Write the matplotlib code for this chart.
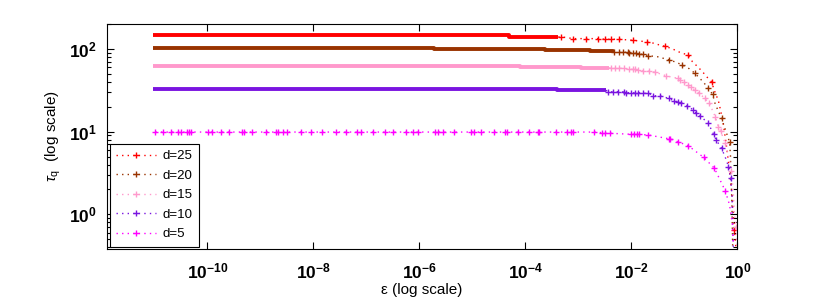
import matplotlib
matplotlib.use('Agg')
import matplotlib.pyplot as plt
import numpy as np

plt.rcParams['font.family'] = ['Liberation Sans', 'DejaVu Sans']
plt.rcParams['mathtext.fontset'] = 'custom'
plt.rcParams['mathtext.rm'] = 'Liberation Sans'
plt.rcParams['mathtext.it'] = 'Liberation Sans:italic'
plt.rcParams['mathtext.bf'] = 'Liberation Sans:bold'

# values, epsilon given as log10(eps)
labels = ['d=25', 'd=20', 'd=15', 'd=10', 'd=5']
colors = ['#ff0000', '#993300', '#ff99cc', '#7a14e0', '#ff00ff']

# dense part (markers overlap into a solid band): step breakpoints
dense_log_eps = {
    'd=25': [-11.02, -4.31, -3.38],
    'd=20': [-11.02, -5.73, -3.63, -2.78, -2.34],
    'd=15': [-11.02, -4.10, -2.95, -2.42],
    'd=10': [-11.02, -3.40, -2.48],
    'd=5': [],
}
dense_tau = {
    'd=25': [148, 140, 140],
    'd=20': [102.3, 99.4, 96.7, 94.0, 91.5],
    'd=15': [63.0, 61.2, 59.6, 59.6],
    'd=10': [32.6, 31.7, 31.7],
    'd=5': [],
}

# sparse part (dotted line, '+' only on some of the points)
log_eps_25 = [-3.38, -3.33, -3.10, -2.85, -2.63, -2.50, -2.38, -2.23, -1.98, -1.83,
              -1.70, -1.57, -1.47, -1.36, -1.21, -1.12, -1.04, -0.93, -0.85, -0.76,
              -0.66, -0.59, -0.49, -0.435, -0.36, -0.32, -0.265, -0.21, -0.15,
              -0.095, -0.057, -0.019]
tau_25 = [140, 141, 134, 134, 134, 131.5, 131.5, 131.5, 128, 125,
          122, 117.5, 112, 108, 99.5, 93, 89.7, 84, 70.4, 62,
          53.3, 46.9, 40.3, 31.4, 23.7, 18.3, 12.1, 6.9, 3.44,
          1.49, 0.645, 0.32]
marks_25 = [1, 2, 3, 4, 5, 6, 7, 8, 10, 13, 17, 22, 30]

log_eps_20 = [-2.34, -2.33, -2.23, -2.16, -2.06, -2.04, -1.97, -1.91, -1.85, -1.78,
              -1.68, -1.51, -1.30, -1.17, -1.04, -0.91, -0.81, -0.74, -0.64, -0.55,
              -0.47, -0.42, -0.30, -0.15, -0.13, -0.13, -0.113, -0.105, -0.10,
              -0.095, -0.09]
tau_20 = [91.5, 91.5, 91.5, 91.5, 91.5, 89, 89, 89, 86.5, 86.5,
          83.2, 80.9, 74.4, 69.8, 64.2, 57.9, 51.4, 46.3, 39.6, 33.5,
          28.4, 21.6, 14.5, 7.5, 4.9, 3.0, 2.0, 1.3, 0.86,
          0.56, 0.38]
marks_20 = [1, 2, 3, 4, 5, 6, 7, 8, 9, 10, 12, 14, 16, 19, 20, 22, 23]

log_eps_15 = [-2.42, -2.38, -2.31, -2.23, -2.14, -2.04, -1.98, -1.93, -1.87, -1.78,
              -1.66, -1.55, -1.44, -1.34, -1.25, -1.12, -1.08, -1.00, -0.93, -0.87,
              -0.81, -0.72, -0.62, -0.53, -0.42, -0.36, -0.32, -0.23, -0.17,
              -0.113, -0.076, -0.057, -0.019, -0.01]
tau_15 = [59.6, 58.6, 58.6, 58.6, 58.6, 56.9, 56.9, 56.9, 55.4, 54.8,
          53.8, 52.8, 49.5, 47.6, 45.9, 44.3, 41.9, 39.6, 37.1, 35.1,
          32.0, 29.2, 25.4, 22.1, 15.2, 11.5, 10.3, 7.2, 5.2,
          3.37, 1.71, 0.98, 0.70, 0.42]
marks_15 = [1, 2, 3, 4, 5, 6, 7, 8, 9, 10, 11, 13, 15, 16, 17, 18, 19, 20,
            21, 22, 23, 24, 25, 26, 27, 29, 32]

log_eps_10 = [-2.48, -2.44, -2.34, -2.25, -2.14, -2.10, -2.00, -1.93, -1.87, -1.78,
              -1.68, -1.59, -1.46, -1.30, -1.19, -1.12, -1.06, -0.945, -0.83, -0.775,
              -0.70, -0.55, -0.45, -0.40, -0.30, -0.21, -0.17, -0.13, -0.104,
              -0.095, -0.085, -0.076]
tau_10 = [31.7, 30.5, 30.5, 30.5, 30.5, 29.7, 29.7, 29.7, 29.7, 29.2,
          29.2, 27.3, 27.1, 25.4, 23.5, 22.9, 22.4, 20.5, 18.3, 16.7,
          15.5, 12.6, 9.3, 7.9, 6.3, 4.54, 3.77, 2.73, 1.71,
          0.98, 0.56, 0.32]
marks_10 = [1, 2, 3, 4, 5, 6, 7, 8, 9, 10, 11, 12, 13, 14, 15, 16, 17, 18,
            19, 20, 21, 22, 23, 24, 26, 27]

log_eps_5 = [-10.98, -10.83, -10.68, -10.55, -10.49, -10.38, -10.34, -10.30, -9.98, -9.92,
             -9.75, -9.60, -9.34, -9.30, -9.15, -8.90, -8.70, -8.66, -8.58, -8.49,
             -8.24, -8.05, -7.83, -7.58, -7.39, -7.18, -7.11, -6.88, -6.64, -6.50,
             -6.26, -6.12, -6.03, -5.71, -5.65, -5.56, -5.35, -5.03, -4.97, -4.84,
             -4.59, -4.39, -4.35, -4.14, -3.93, -3.76, -3.74, -3.42, -3.21, -3.14,
             -3.10, -2.70, -2.55, -2.50, -2.40, -2.00, -1.95, -1.89, -1.85, -1.68,
             -1.30, -1.27, -1.13, -0.93, -0.64, -0.435, -0.23, -0.15, -0.095, -0.076]
tau_5 = [9.9] * 52 + [9.73, 9.57, 9.57, 9.3, 9.3, 9.3, 9.3, 9.12,
                      8.23, 8.23, 7.57, 6.77, 4.90, 3.61, 1.92, 1.30, 0.74, 0.42]
marks_5 = list(range(0, 67))

sparse_log_eps = {'d=25': log_eps_25, 'd=20': log_eps_20, 'd=15': log_eps_15,
                  'd=10': log_eps_10, 'd=5': log_eps_5}
sparse_tau = {'d=25': tau_25, 'd=20': tau_20, 'd=15': tau_15,
              'd=10': tau_10, 'd=5': tau_5}
sparse_marks = {'d=25': marks_25, 'd=20': marks_20, 'd=15': marks_15,
                'd=10': marks_10, 'd=5': marks_5}

x_ticks = [1e-10, 1e-8, 1e-6, 1e-4, 1e-2, 1e0]
x_tick_labels = [r'$\mathbf{10^{-10}}$', r'$\mathbf{10^{-8}}$', r'$\mathbf{10^{-6}}$',
                 r'$\mathbf{10^{-4}}$', r'$\mathbf{10^{-2}}$', r'$\mathbf{10^{0}}$']
y_ticks = [1e0, 1e1, 1e2]
y_tick_labels = [r'$\mathbf{10^{0}}$', r'$\mathbf{10^{1}}$', r'$\mathbf{10^{2}}$']

fig = plt.figure(figsize=(8.14, 3.04), dpi=100)
ax = fig.add_axes([0.131, 0.18, 0.775, 0.742])

for lab, col in zip(labels, colors):
    de = np.array(dense_log_eps[lab], dtype=float)
    dt = np.array(dense_tau[lab], dtype=float)
    if len(de):
        ax.plot(10 ** de, dt, color=col, lw=2.8, drawstyle='steps-post',
                solid_capstyle='butt')
    se = 10 ** np.array(sparse_log_eps[lab], dtype=float)
    st = np.array(sparse_tau[lab], dtype=float)
    ax.plot(se, st, color=col, linestyle=(0, (1, 3)), lw=1, marker='+',
            markersize=4.5, markeredgewidth=1, markevery=sparse_marks[lab])
    # legend handle: dotted line with one marker in the middle
    ax.plot([], [], color=col, linestyle=(0, (1, 3)), lw=1, marker='+',
            markersize=4.5, markeredgewidth=1, label=lab)

ax.set_xscale('log')
ax.set_yscale('log')
ax.set_xlim(10 ** -11.9, 1)
ax.set_ylim(0.377, 203)

ax.set_xticks(x_ticks)
ax.set_xticklabels(x_tick_labels, fontsize=12.5)
ax.xaxis.set_minor_locator(matplotlib.ticker.NullLocator())
ax.set_yticks(y_ticks)
ax.set_yticklabels(y_tick_labels, fontsize=12.5)
ax.yaxis.set_minor_locator(matplotlib.ticker.LogLocator(base=10, subs=np.arange(2, 10)))
ax.yaxis.set_minor_formatter(matplotlib.ticker.NullFormatter())

ax.tick_params(which='both', direction='in', top=True, right=True, width=0.8)
ax.tick_params(axis='x', which='major', length=5, pad=9)
ax.tick_params(axis='y', which='major', length=5, pad=7)
ax.tick_params(which='minor', length=3)
for s in ax.spines.values():
    s.set_linewidth(0.8)

ax.set_xlabel('ε (log scale)', fontsize=11, labelpad=1)
ax.set_ylabel(r'$\tau_\mathrm{q}$  (log scale)', fontsize=11, labelpad=4)

leg = ax.legend(loc='lower left', bbox_to_anchor=(0.005, 0.01), borderaxespad=0,
                fontsize=9.5, handlelength=3.0, handletextpad=0.5, labelspacing=0.55,
                fancybox=False, framealpha=1, edgecolor='black', borderpad=0.5)
leg.get_frame().set_linewidth(0.8)

fig.savefig('out.png', dpi=100)
